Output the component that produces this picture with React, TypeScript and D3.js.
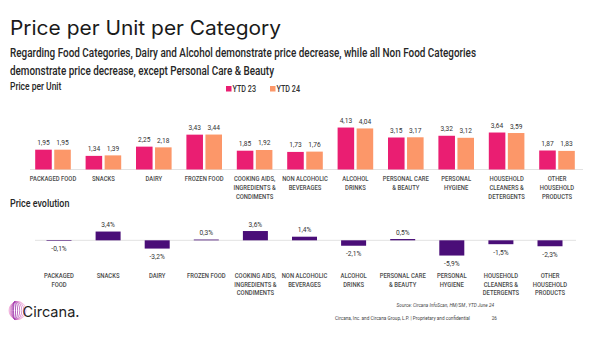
import React from "react";
import * as d3 from "d3";

const categoriesTop = [
  ["PACKAGED FOOD"],
  ["SNACKS"],
  ["DAIRY"],
  ["FROZEN FOOD"],
  ["COOKING AIDS,", "INGREDIENTS &", "CONDIMENTS"],
  ["NON ALCOHOLIC", "BEVERAGES"],
  ["ALCOHOL", "DRINKS"],
  ["PERSONAL CARE", "& BEAUTY"],
  ["PERSONAL", "HYGIENE"],
  ["HOUSEHOLD", "CLEANERS &", "DETERGENTS"],
  ["OTHER", "HOUSEHOLD", "PRODUCTS"],
];
const categoriesBottom = [
  ["PACKAGED", "FOOD"],
  ["SNACKS"],
  ["DAIRY"],
  ["FROZEN FOOD"],
  ["COOKING AIDS,", "INGREDIENTS &", "CONDIMENTS"],
  ["NON ALCOHOLIC", "BEVERAGES"],
  ["ALCOHOL", "DRINKS"],
  ["PERSONAL CARE", "& BEAUTY"],
  ["PERSONAL", "HYGIENE"],
  ["HOUSEHOLD", "CLEANERS &", "DETERGENTS"],
  ["OTHER", "HOUSEHOLD", "PRODUCTS"],
];
const seriesNames = ["YTD 23", "YTD 24"];
const ytd23 = [1.95, 1.34, 2.25, 3.43, 1.85, 1.73, 4.13, 3.15, 3.32, 3.64, 1.87];
const ytd24 = [1.95, 1.39, 2.18, 3.44, 1.92, 1.76, 4.04, 3.17, 3.12, 3.59, 1.83];
const evolution = [-0.1, 3.4, -3.2, 0.3, 3.6, 1.4, -2.1, 0.5, -5.9, -1.5, -2.3];

const PINK = "#EA1E72";
const SALMON = "#FC9769";
const PURPLE = "#4A0E78";
const LABEL = "#4a4a4a";
const COND = "Roboto, sans-serif";

function CText(props: {
  x: number; y: number; anchor?: string; size: number; weight?: number;
  fill?: string; sx?: number; italic?: boolean; len?: number; children: React.ReactNode;
}) {
  const { x, y, anchor = "start", size, weight = 400, fill = "#333", sx = 0.82, italic, len } = props;
  return (
    <text
      transform={`translate(${x},${y}) scale(${sx},1)`}
      textAnchor={anchor}
      fontFamily={COND}
      fontSize={size}
      fontWeight={weight}
      fontStyle={italic ? "italic" : "normal"}
      fill={fill}
      textLength={len}
      lengthAdjust={len ? "spacingAndGlyphs" : undefined}
    >
      {props.children}
    </text>
  );
}

const fmt2 = (v: number) => d3.format(".2f")(v).replace(".", ",");
const fmtPct = (v: number) => d3.format(".1f")(v).replace(".", ",").replace("−", "-") + "%";

export default function App() {
  const W = 600, H = 337;
  const idx = categoriesTop.map((_, i) => String(i));

  // Top chart scales
  const xTop = d3.scalePoint<string>().domain(idx).range([53, 557]);
  const xInner = d3.scaleBand<string>().domain(seriesNames).range([-17.8, 17.8]).paddingInner(0.13);
  const yTop = d3.scaleLinear().domain([0, 5]).range([169.5, 118.7]);

  // Bottom chart scales
  const xBot = d3.scalePoint<string>().domain(idx).range([59, 550]);
  const yBot = d3.scaleLinear().domain([-6, 4]).range([255.8, 230]);
  const barW = 25;

  const series = [ytd23, ytd24];
  const colors = [PINK, SALMON];

  const logoRx = [8.5, 7, 5.5, 4, 2.5, 1];
  const subSx = 0.8;

  return (
    <svg width={W} height={H} style={{ position: "absolute", left: 0, top: 0, background: "#fff" }}>
      <rect width={W} height={H} fill="#fff" />
      {/* Title */}
      <text x={10} y={35} fontFamily="Inter, 'Open Sans', sans-serif" fontSize={20} fill="#1a1a1a" textLength={271} lengthAdjust="spacingAndGlyphs">
        Price per Unit per Category
      </text>
      <CText x={10} y={57.3} size={13} weight={500} fill="#262626" sx={subSx} len={466 / subSx}>
        Regarding Food Categories, Dairy and Alcohol demonstrate price decrease, while all Non Food Categories
      </CText>
      <CText x={10} y={75.3} size={13} weight={500} fill="#262626" sx={subSx} len={264 / subSx}>
        demonstrate price decrease, except Personal Care &amp; Beauty
      </CText>

      {/* Section labels */}
      <CText x={10} y={90} size={10} weight={500} fill="#262626" sx={0.85}>Price per Unit</CText>
      <CText x={10} y={206.5} size={10.5} weight={500} fill="#262626" sx={0.85}>Price evolution</CText>

      {/* Legend */}
      {seriesNames.map((s, i) => {
        const lx = [226, 270][i];
        return (
          <g key={s}>
            <rect x={lx} y={86} width={5.5} height={5.5} fill={colors[i]} />
            <CText x={lx + 6.5} y={91.8} size={8.5} weight={500} fill="#333" sx={0.85}>{s}</CText>
          </g>
        );
      })}

      {/* Top baseline */}
      <line x1={30} x2={583} y1={yTop(0)} y2={yTop(0)} stroke="#e2e2e2" strokeWidth={1} />

      {/* Top bars */}
      {idx.map((c, i) => (
        <g key={c}>
          {series.map((vals, si) => {
            const bx = (xTop(c) as number) + (xInner(seriesNames[si]) as number);
            const bw = xInner.bandwidth();
            return (
              <g key={si}>
                <rect x={bx} y={yTop(vals[i])} width={bw} height={yTop(0) - yTop(vals[i])} fill={colors[si]} />
                <CText x={bx + bw / 2} y={yTop(vals[i]) - 4.5} anchor="middle" size={7.8} weight={400} fill="#333" sx={0.85}>
                  {fmt2(vals[i])}
                </CText>
              </g>
            );
          })}
          {categoriesTop[i].map((line, li) => (
            <CText key={li} x={xTop(c) as number} y={181.3 + li * 8.6} anchor="middle" size={7.2} weight={500} fill={LABEL} sx={0.82}>
              {line}
            </CText>
          ))}
        </g>
      ))}

      {/* Bottom baseline */}
      <line x1={35} x2={576} y1={yBot(0)} y2={yBot(0)} stroke="#e2e2e2" strokeWidth={1} />

      {/* Bottom bars */}
      {idx.map((c, i) => {
        const v = evolution[i];
        const cx = xBot(c) as number;
        const y0 = yBot(0);
        const yv = yBot(v);
        const top = Math.min(y0, yv);
        const h = Math.max(Math.abs(yv - y0), 0.6);
        return (
          <g key={c}>
            <rect x={cx - barW / 2} y={v >= 0 ? y0 - h : y0} width={barW} height={h} fill={PURPLE} />
            <CText
              x={cx}
              y={v >= 0 ? top - 4.5 : Math.max(yv, y0) + 10.5}
              anchor="middle" size={7.8} weight={400} fill="#333" sx={0.85}
            >
              {fmtPct(v)}
            </CText>
            {categoriesBottom[i].map((line, li) => (
              <CText key={li} x={cx} y={278 + li * 8.5} anchor="middle" size={7.2} weight={500} fill={LABEL} sx={0.82}>
                {line}
              </CText>
            ))}
          </g>
        );
      })}

      {/* Footer */}
      <CText x={494} y={306.5} anchor="end" size={5.2} italic fill="#444" sx={0.9}>
        Source: Circana InfoScan, HM/SM , YTD June 24
      </CText>
      <CText x={470} y={319.5} anchor="end" size={5.2} fill="#444" sx={0.9}>
        Circana, Inc. and Circana Group, L.P. |  Proprietary and confidential
      </CText>
      <CText x={497} y={319.5} anchor="end" size={5.2} fill="#444" sx={0.9}>26</CText>

      {/* Logo */}
      <g>
        {logoRx.map((rx, i) => (
          <ellipse key={i} cx={17.5 - i * 0.6} cy={310.5} rx={rx} ry={9} fill="none"
            stroke={d3.interpolateRgb("#f2a7d8", "#9b2fa8")(i / (logoRx.length - 1))} strokeWidth={0.8} />
        ))}
        <text x={22.5} y={317} fontFamily="Inter, 'Open Sans', sans-serif" fontSize={14.5} fill="#1e1e1e" textLength={57} lengthAdjust="spacingAndGlyphs">
          Circana.
        </text>
      </g>
    </svg>
  );
}
